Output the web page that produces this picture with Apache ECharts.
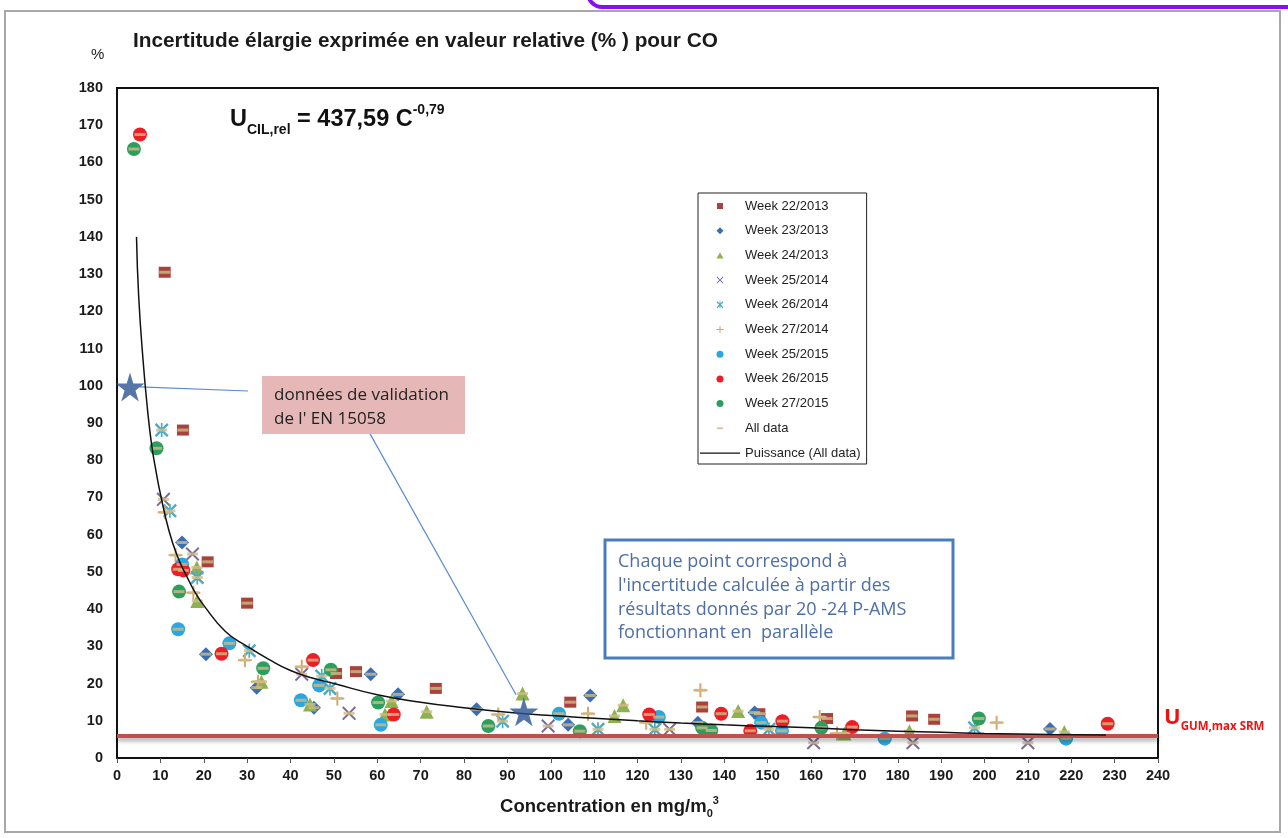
<!DOCTYPE html>
<html>
<head>
<meta charset="utf-8">
<script src="https://cdn.jsdelivr.net/npm/echarts@6/dist/echarts.min.js"></script>
<style>
  html, body { margin: 0; padding: 0; background: #fff; }
  #chart { width: 1288px; height: 838px; }
</style>
</head>
<body>
<div id="chart"></div>
<script>
// values: [concentration mg/m3, uncertainty %]
const week22_2013 = [[11, 130.5], [15.2, 88.1], [20.9, 52.7], [30, 41.6], [50.5, 22.7], [55.1, 23.2], [73.5, 18.7], [104.5, 15], [134.9, 13.7], [148.1, 11.9], [163.7, 10.6], [183.3, 11.3], [188.4, 10.4]];
const week23_2013 = [[15, 57.9], [20.5, 27.9], [32.2, 18.9], [45.4, 13.5], [58.5, 22.5], [64.8, 17.1], [82.9, 13.1], [104, 8.9], [109.1, 16.8], [133.9, 9.5], [147, 12.2], [215.1, 7.8]];
const week24_2013 = [[18.4, 51.2], [18.5, 42.2], [33.3, 20.5], [44.5, 14.4], [61.8, 11.7], [63.3, 15.3], [71.4, 12.4], [93.5, 17.3], [114.7, 11.3], [116.7, 14.2], [143.2, 12.6], [167.7, 6.6], [182.7, 7.2], [218.4, 7]];
const week25_2014 = [[10.7, 69.5], [17.4, 54.8], [42.6, 22.5], [53.5, 12], [99.4, 8.6], [127.4, 7.7], [160.6, 4.1], [183.5, 4.1], [210, 4.1]];
const week26_2014 = [[10.3, 88.1], [12.2, 66.4], [18.5, 48.5], [30.5, 28.8], [47.2, 22], [49.1, 18.7], [88.9, 9.9], [110.9, 7.7], [124, 7.7], [150.3, 7.7], [197.7, 8.1]];
const week27_2014 = [[11, 66], [13.5, 54.5], [17.6, 44.4], [29.5, 26.3], [32.5, 20.5], [42.6, 24.5], [50.8, 16], [87.9, 11.7], [108.6, 11.9], [122, 9.5], [134.5, 18.2], [162, 11], [166, 6.6], [202.8, 9.5]];
const week25_2015 = [[14.1, 34.6], [15, 52], [25.9, 30.8], [42.4, 15.5], [46.6, 19.5], [60.8, 8.9], [101.9, 11.9], [124.9, 11], [148.5, 9.5], [153.3, 7.3], [177, 5.2], [218.8, 5.2]];
const week26_2015 = [[5.3, 167.5], [14.1, 50.7], [15.3, 50.4], [24.1, 28], [45.2, 26.3], [63.8, 11.7], [122.7, 11.7], [139.3, 11.9], [146, 7.3], [153.4, 9.9], [169.5, 8.3], [228.4, 9.2]];
const week27_2015 = [[3.9, 163.6], [9.1, 83.2], [14.3, 44.7], [33.7, 24.1], [49.3, 23.7], [60.2, 14.9], [85.6, 8.6], [106.7, 7.2], [134.9, 8.1], [137, 7.4], [162.4, 8.1], [198.7, 10.6]];

// trend line "Puissance (All data)" as drawn in the picture
const powerCurve = [[4.5, 140], [5, 124], [6, 107], [7, 94], [8, 84], [9, 77], [10, 71], [12, 61], [14, 54], [16, 49], [18, 44.5], [20, 41], [25, 34], [30, 30], [35, 26.5], [40, 23.5], [45, 21.5], [50, 20], [60, 17], [70, 15], [80, 13.5], [90, 12.3], [100, 11.4], [110, 10.7], [120, 10], [130, 9.4], [140, 8.9], [150, 8.5], [160, 8.1], [170, 7.6], [180, 7.2], [190, 6.9], [200, 6.6], [215, 6.3], [228, 6.2]];

// validation data of EN 15058 (stars) and the max SRM uncertainty level
const validationPoints = [[3, 99.7], [93.8, 12.4]];
const uGumMax = 5.9;

const xTicks = { min: 0, max: 240, interval: 10 };
const yTicks = { min: 0, max: 180, interval: 10 };

const seriesNames = ['Week 22/2013', 'Week 23/2013', 'Week 24/2013', 'Week 25/2014', 'Week 26/2014', 'Week 27/2014', 'Week 25/2015', 'Week 26/2015', 'Week 27/2015'];

const xPath = 'path://M0,1L1,0L5,4L9,0L10,1L6,5L10,9L9,10L5,6L1,10L0,9L4,5Z';
const starPath = 'path://M0,0M10,10M0,1.2L1.2,0L5,3.8L8.8,0L10,1.2L6.2,5L10,8.8L8.8,10L5,6.2L1.2,10L0,8.8L3.8,5ZM4.4,0H5.6V10H4.4Z';
const plusPath = 'path://M4.3,0H5.7V4.3H10V5.7H5.7V10H4.3V5.7H0V4.3H4.3Z';
const bigStar = 'path://M50,0L61,35L98,35L68,57L79,91L50,70L21,91L32,57L2,35L39,35Z';

// legend icons padded to the 40x7 legend box so they stay small and centred
const legendIcons = {
  rect: 'path://M0,0M40,7M17,0.5h6v6h-6z',
  diamond: 'path://M0,0M40,7M20,0L23.5,3.5L20,7L16.5,3.5z',
  triangle: 'path://M0,0M40,7M20,0.5L23.5,6.5L16.5,6.5z',
  dash: 'path://M0,0M40,7M17,2.5h6v2h-6z',
  line: 'path://M0,0M40,7M0,2.9h40v1.3h-40z',
};

const weekStyles = [
  { data: week22_2013, symbol: 'rect', size: [12, 11], color: '#a8423d', icon: legendIcons.rect },
  { data: week23_2013, symbol: 'diamond', size: 14, color: '#3a6db3', icon: legendIcons.diamond },
  { data: week24_2013, symbol: 'triangle', size: 14, color: '#8db14f', icon: legendIcons.triangle },
  { data: week25_2014, symbol: xPath, size: 14, color: '#7c6b98' },
  { data: week26_2014, symbol: starPath, size: 14, color: '#48aac4' },
  { data: week27_2014, symbol: plusPath, size: 14, color: '#d6a56e' },
  { data: week25_2015, symbol: 'circle', size: 14, color: '#2aa7e0' },
  { data: week26_2015, symbol: 'circle', size: 14, color: '#ee1c25' },
  { data: week27_2015, symbol: 'circle', size: 14, color: '#2e9e5e' },
];

const allData = [].concat(...weekStyles.map((w) => w.data));

const chart = echarts.init(document.getElementById('chart'));

const series = weekStyles.map((w, i) => ({
  name: seriesNames[i],
  type: 'scatter',
  data: w.data,
  symbol: w.symbol,
  symbolSize: w.size,
  itemStyle: { color: w.color, opacity: 1 },
  z: 3,
}));

series.push({
  name: 'All data',
  type: 'scatter',
  data: allData,
  symbol: 'rect',
  symbolSize: [11, 3],
  itemStyle: { color: '#cdbb85' },
  z: 4,
});

series.push({
  name: 'Puissance (All data)',
  type: 'line',
  data: powerCurve,
  smooth: true,
  symbol: 'none',
  showSymbol: false,
  itemStyle: { color: '#111' },
  lineStyle: { color: '#111', width: 1.5 },
  z: 5,
  markLine: {
    silent: true,
    symbol: 'none',
    label: { show: false },
    lineStyle: {
      color: '#c0504d',
      width: 4,
      type: 'solid',
      shadowColor: 'rgba(0,0,0,0.35)',
      shadowBlur: 4,
      shadowOffsetY: 3,
    },
    data: [{ yAxis: uGumMax }],
  },
});

series.push({
  name: 'validation',
  type: 'scatter',
  data: validationPoints,
  symbol: bigStar,
  symbolSize: 29,
  itemStyle: { color: '#2c5495' },
  z: 6,
  markLine: {
    silent: true,
    symbol: ['none', 'arrow'],
    symbolSize: [0, 9],
    label: { show: false },
    lineStyle: { color: '#5a8ad0', width: 1.2, type: 'solid' },
    data: [
      [{ coord: [30.2, 98.6] }, { coord: [5.2, 99.7] }],
      [{ coord: [56.7, 90.5] }, { coord: [92, 17] }],
    ],
  },
});

const legendData = seriesNames.map((name, i) => (weekStyles[i].icon ? { name, icon: weekStyles[i].icon } : name));
legendData.push({ name: 'All data', icon: legendIcons.dash }, { name: 'Puissance (All data)', icon: legendIcons.line });

chart.setOption({
  animation: false,
  backgroundColor: '#fff',
  textStyle: { fontFamily: 'Liberation Sans, Arial, sans-serif' },
  grid: {
    left: 117,
    top: 88,
    right: 130,
    bottom: 80,
    show: true,
    borderColor: '#111',
    borderWidth: 2,
    backgroundColor: '#fff',
  },
  legend: {
    data: legendData,
    orient: 'vertical',
    left: 698,
    top: 193,
    itemWidth: 40,
    itemHeight: 7,
    itemGap: 10.7,
    padding: [6, 6, 4, 2],
    borderColor: '#222',
    borderWidth: 1,
    backgroundColor: '#fff',
    textStyle: { fontSize: 13, color: '#222', lineHeight: 14, fontFamily: 'Liberation Sans, Arial' },
  },
  xAxis: {
    type: 'value',
    min: xTicks.min,
    max: xTicks.max,
    interval: xTicks.interval,
    splitLine: { show: false },
    axisLine: { lineStyle: { color: '#111', width: 2 } },
    axisTick: { show: true, length: 5, lineStyle: { color: '#555' } },
    axisLabel: { fontSize: 14.5, fontWeight: 'bold', color: '#1a1a1a', margin: 10 },
    name: '{a|Concentration en mg/m}{s|0}{p|3}',
    nameLocation: 'middle',
    nameGap: 37,
    nameTextStyle: {
      padding: [0, 56, 0, 0],
      rich: {
        a: { fontSize: 18.5, fontWeight: 'bold', color: '#1a1a1a', lineHeight: 24 },
        s: { fontSize: 11, fontWeight: 'bold', color: '#1a1a1a', lineHeight: 24, verticalAlign: 'bottom' },
        p: { fontSize: 11, fontWeight: 'bold', color: '#1a1a1a', lineHeight: 24, verticalAlign: 'top' },
      },
    },
  },
  yAxis: {
    type: 'value',
    min: yTicks.min,
    max: yTicks.max,
    interval: yTicks.interval,
    splitLine: { show: false },
    axisLine: { show: true, lineStyle: { color: '#111', width: 2 } },
    axisTick: { show: false },
    axisLabel: { fontSize: 14.5, fontWeight: 'bold', color: '#1a1a1a', margin: 14 },
  },
  graphic: [
    // outer frame + slide border remnant
    { type: 'rect', shape: { x: 5, y: 11, width: 1275, height: 821 }, style: { fill: 'none', stroke: '#a8a8a8', lineWidth: 2 }, z: -10 },
    { type: 'rect', shape: { x: 588, y: -40, width: 760, height: 47, r: 14 }, style: { fill: '#fff', stroke: '#8a0cf2', lineWidth: 4 }, z: 10 },
    {
      type: 'text', left: 133, top: 31,
      style: { text: 'Incertitude élargie exprimée en valeur relative (% ) pour CO', fontSize: 20.8, fontWeight: 'bold', fill: '#1a1a1a', fontFamily: 'Liberation Sans, Arial' },
    },
    { type: 'text', left: 91, top: 47, style: { text: '%', fontSize: 15, fill: '#1a1a1a', fontFamily: 'Liberation Sans, Arial' } },
    {
      type: 'text', left: 230, top: 103,
      style: {
        text: '{u|U}{s|CIL,rel}{u| = 437,59 C}{p|-0,79}',
        rich: {
          u: { fontSize: 23.5, fontWeight: 'bold', fill: '#111', lineHeight: 34, fontFamily: 'Liberation Sans, Arial' },
          s: { fontSize: 14, fontWeight: 'bold', fill: '#111', lineHeight: 34, verticalAlign: 'bottom', fontFamily: 'Liberation Sans, Arial' },
          p: { fontSize: 14, fontWeight: 'bold', fill: '#111', lineHeight: 34, verticalAlign: 'top', fontFamily: 'Liberation Sans, Arial' },
        },
      },
    },
    // pink note
    { type: 'rect', shape: { x: 262, y: 376, width: 203, height: 58 }, style: { fill: '#e5b8b7' }, z: 20 },
    {
      type: 'text', left: 274, top: 383, z: 21,
      style: { text: 'données de validation\nde l\' EN 15058', fontSize: 17, lineHeight: 24, fill: '#222', fontFamily: 'Open Sans, Noto Sans' },
    },
    // blue note
    { type: 'rect', shape: { x: 605, y: 540, width: 348, height: 118 }, style: { fill: '#fff', stroke: '#4a7ebb', lineWidth: 3 }, z: 20 },
    {
      type: 'text', left: 618, top: 550, z: 21,
      style: {
        text: 'Chaque point correspond à\nl\'incertitude calculée à partir des\nrésultats donnés par 20 -24 P-AMS\nfonctionnant en  parallèle',
        fontSize: 18, lineHeight: 23.8, fill: '#4d6fa6', fontFamily: 'Open Sans, Noto Sans',
      },
    },
    // label of the red line
    {
      type: 'text', left: 1164, top: 707,
      style: {
        text: '{u|U}{s|GUM,max SRM}',
        rich: {
          u: { fontSize: 22, fontWeight: 'bold', fill: '#ee1111', lineHeight: 30, fontFamily: 'Open Sans, Noto Sans' },
          s: { fontSize: 11.5, fontWeight: 'bold', fill: '#ee1111', lineHeight: 30, verticalAlign: 'bottom', fontFamily: 'Open Sans, Noto Sans' },
        },
      },
    },
  ],
  series,
});
</script>
</body>
</html>
